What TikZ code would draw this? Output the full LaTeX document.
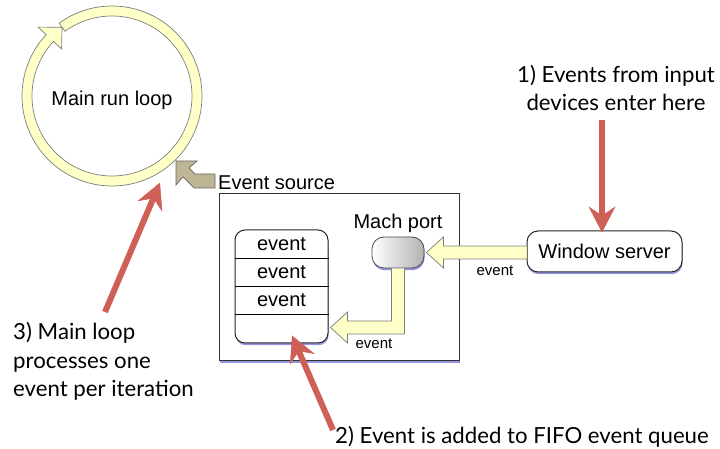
\documentclass[tikz,border=0pt]{standalone}
\usepackage{fontspec}
\setmainfont{Liberation Sans}
\newfontfamily\notefont{Lato}
\usetikzlibrary{calc,shadows,arrows.meta}
\definecolor{loopyellow}{RGB}{255,255,200}
\definecolor{srctan}{RGB}{190,181,146}
\definecolor{notered}{RGB}{206,96,88}
\definecolor{shadowblue}{RGB}{150,150,220}
\definecolor{edgegray}{RGB}{125,125,125}
\begin{document}
\begin{tikzpicture}[x=1pt,y=1pt,
  label20/.style={font=\fontsize{20}{24}\selectfont, inner sep=0pt},
  small15/.style={font=\fontsize{15}{18}\selectfont, inner sep=0pt},
  note/.style={font=\notefont\fontsize{22.2}{28.5}\selectfont, inner sep=0pt},
  blueshadow/.style={drop shadow={shadow xshift=0.6pt, shadow yshift=-2.2pt, fill=shadowblue, opacity=1}},
  roundbox/.style={draw=black!85, line width=1pt, fill=white, rounded corners=11pt, blueshadow},
  fatarrow/.style={fill=loopyellow, draw=edgegray, line width=0.7pt, line join=miter},
  redarrow/.style={draw=notered, line width=6pt, -{Stealth[length=26pt, width=27pt, inset=9pt, line width=0.5pt]}},
]
\useasboundingbox (0,0) rectangle (720,449);

% run loop ring with its head
\coordinate (ring) at (112,353);
\draw[fill=loopyellow, draw=edgegray, line width=0.7pt]
  ($(ring)+(126:90)$) arc[start angle=126, end angle=-223, radius=90pt]
  -- ($(ring)+(137:101)$) -- ($(ring)+(126:85)$) -- ($(ring)+(137:69)$)
  -- ($(ring)+(137:80)$) arc[start angle=-223, end angle=126, radius=80pt] -- cycle;
\node[label20] (loop) at (112,349) {Main run loop};

% event source
\node[label20, anchor=west] (src) at (218,266) {Event source};
\draw[fill=srctan, draw=black!60, line width=0.7pt, shift={(src.west)}]
  (-42,22) -- (-21,22) -- (-29,15) -- (-23,9) -- (-3,9) -- (-3,-5)
  -- (-24,-5) -- (-35,6) -- (-42,-2) -- cycle;
\node[draw=black!80, line width=1pt, fill=white, blueshadow,
  minimum width=240pt, minimum height=167pt] (evbox) at (339,171.5) {};

% queue
\node[roundbox, rounded corners=10pt, minimum width=93pt, minimum height=113pt] (queue) at (281.5,162.5) {};
\foreach \k in {1,2,3} {
  \node[label20] (ev\k) at ([yshift=13.5pt-28pt*\k]queue.north) {event};
  \draw[line width=0.8pt] ([yshift=-1pt-28pt*\k]queue.north west) -- ([yshift=-1pt-28pt*\k]queue.north east);
}

% mach port and window server
\node[draw=black!70, line width=0.8pt, rounded corners=12pt, left color=white, right color=black!30,
  blueshadow, minimum width=52pt, minimum height=31pt] (mach) at (398,196.5) {};
\node[label20] (machlbl) at (398,226) {Mach port};
\node[roundbox, label20, minimum width=155pt, minimum height=41pt] (winsrv) at (604.5,197.5) {Window server};

\draw[fatarrow] let \p1=(winsrv.west), \p2=(mach.east) in
  (\x1,\y2+6.5) -- (\x2+19,\y2+6.5) -- (\x2+19,\y2+15.5) -- (\x2+2,\y2)
  -- (\x2+19,\y2-15.5) -- (\x2+19,\y2-6.5) -- (\x1,\y2-6.5);
\draw[fatarrow] let \p1=(mach.south), \p2=(queue.east), \p3=($(queue.south)+(0,16)$) in
  (\x1-6.5,\y1) -- (\x1-6.5,\y3+6.5) -- (\x2+19,\y3+6.5) -- (\x2+19,\y3+15.5) -- (\x2+2,\y3)
  -- (\x2+19,\y3-15.5) -- (\x2+19,\y3-6.5) -- (\x1+6.5,\y3-6.5) -- (\x1+6.5,\y1);
\node[small15] (evA) at (495,178) {event};
\node[small15] (evB) at (374,105) {event};

% notes
\node[note, align=center] (note1) at (616,361) {1) Events from input\\devices enter here};
\node[note, anchor=west] (note2) at (335,12) {2) Event is added to FIFO event queue};
\node[note, align=left, anchor=west] (note3) at (13,87.5) {3) Main loop\\processes one\\event per iteration};
\coordinate (in1) at (602,329);
\coordinate (in2) at (333,19);
\coordinate (in3) at (105,137);
\draw[redarrow] (in1) -- ([xshift=-2.5pt, yshift=-2pt]winsrv.north);
\draw[redarrow] (in2) -- ([xshift=10.5pt, yshift=8pt]queue.south);
\draw[redarrow] (in3) -- ($(ring)+(-61:99)$);
\end{tikzpicture}
\end{document}
